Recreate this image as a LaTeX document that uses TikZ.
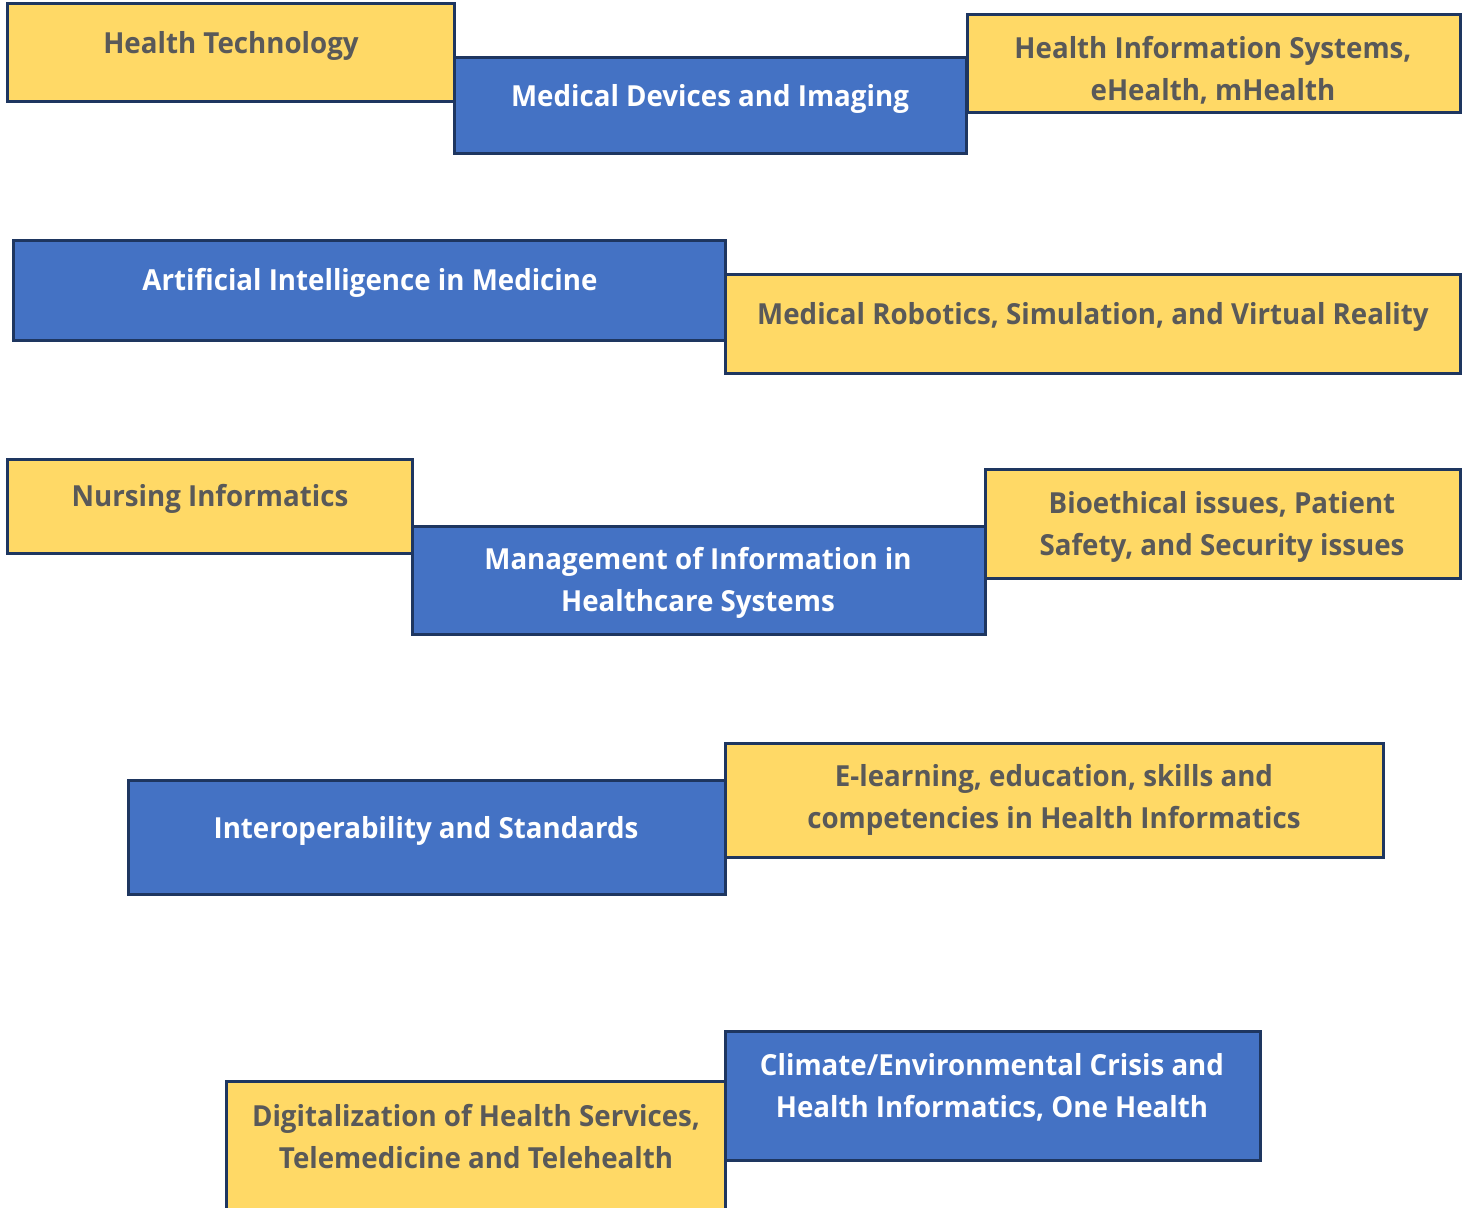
\documentclass[tikz,border=0pt]{standalone}
\usepackage{fontspec}
\setmainfont{Open Sans}[BoldFont={* Bold}, FakeStretch=0.955]
\definecolor{boxyellow}{HTML}{FFD966}
\definecolor{boxblue}{HTML}{4472C4}
\definecolor{boxline}{HTML}{1E3660}
\definecolor{txtgray}{HTML}{595959}
\tikzset{
  panel/.style={draw=boxline, line width=3pt, inner sep=0pt, outer sep=0pt, rectangle},
  ybox/.style={panel, fill=boxyellow},
  bbox/.style={panel, fill=boxblue},
  lbl/.style={font=\fontsize{29}{42}\selectfont\bfseries, align=center, inner sep=0pt, anchor=base},
  ylbl/.style={lbl, text=txtgray},
  blbl/.style={lbl, text=white},
}
% box macro: name, x1, y1, x2, y2, style
\newcommand{\mybox}[6]{%
  \node[#6, minimum width={(#4-#2)*1pt}, minimum height={(#5-#3)*1pt}] (#1) at ({(#2+#4)/2},{(#3+#5)/2}) {};}
\begin{document}
\begin{tikzpicture}[x=1pt, y=-1pt]
\useasboundingbox[fill=white] (0,0) rectangle (1466,1207);
% row 1
\mybox{b1}{7}{4}{454}{101}{ybox}
\mybox{b2}{454}{58}{966}{153}{bbox}
\mybox{b3}{967}{15}{1460}{112}{ybox}
\node[ylbl] (t1) at (231,53.5) {Health Technology};
\node[blbl] (t2) at (710,106.5) {Medical Devices and Imaging};
\node[ylbl] (t3) at (1213,100.5) {Health Information Systems,\\eHealth, mHealth};
% row 2
\mybox{b4}{13}{240}{725}{340}{bbox}
\mybox{b5}{725}{274}{1460}{373}{ybox}
\node[blbl] (t4) at (370,290.5) {Artificial Intelligence in Medicine};
\node[ylbl] (t5) at (1093,324) {Medical Robotics, Simulation, and Virtual Reality};
% row 3
\mybox{b6}{7}{459}{412}{553}{ybox}
\mybox{b7}{412}{526}{985}{634}{bbox}
\mybox{b8}{985}{469}{1460}{578}{ybox}
\node[ylbl] (t6) at (210,506.5) {Nursing Informatics};
\node[blbl] (t7) at (698,611.5) {Management of Information in\\Healthcare Systems};
\node[ylbl] (t8) at (1222,555.5) {Bioethical issues, Patient\\Safety, and Security issues};
% row 4
\mybox{b9}{128}{780}{725}{894}{bbox}
\mybox{b10}{725}{743}{1383}{857}{ybox}
\node[blbl] (t9) at (426,838.5) {Interoperability and Standards};
\node[ylbl] (t10) at (1054,828.5) {E-learning, education, skills and\\competencies in Health Informatics};
% row 5
\mybox{b11}{226}{1081}{725}{1215}{ybox}
\mybox{b12}{725}{1031}{1260}{1160}{bbox}
\node[ylbl] (t11) at (476,1168.5) {Digitalization of Health Services,\\Telemedicine and Telehealth};
\node[blbl] (t12) at (992,1117.5) {Climate/Environmental Crisis and\\Health Informatics, One Health};
\end{tikzpicture}
\end{document}
